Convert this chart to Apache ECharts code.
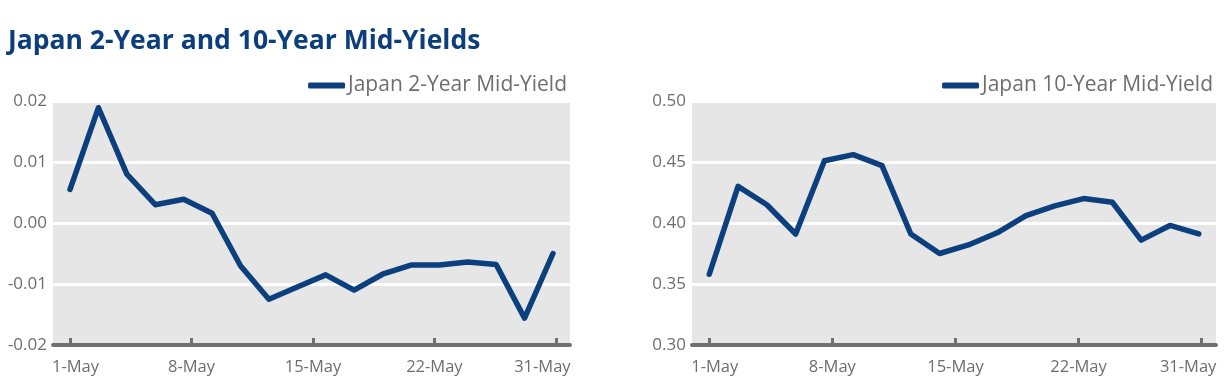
<!DOCTYPE html>
<html>
<head>
<meta charset="utf-8">
<script src="https://cdn.jsdelivr.net/npm/echarts@6/dist/echarts.min.js"></script>
<style>
html,body{margin:0;padding:0;background:#fff;}
#c{width:1227px;height:388px;}
</style>
</head>
<body>
<div id="c"></div>
<script>
// ---- data ----
const titleText = "Japan 2-Year and 10-Year Mid-Yields";
const seriesNames = ["Japan 2-Year Mid-Yield", "Japan 10-Year Mid-Yield"];
const tickLabels = ["1-May", "8-May", "15-May", "22-May", "31-May"];
const yield2y = [0.0055, 0.0189, 0.0080, 0.0030, 0.0039, 0.0016, -0.0070, -0.0125, -0.0105,
                 -0.0085, -0.0110, -0.0084, -0.0069, -0.0069, -0.0064, -0.0068, -0.0156, -0.0050];
const yield10y = [0.358, 0.430, 0.415, 0.391, 0.451, 0.456, 0.447, 0.391, 0.375,
                  0.382, 0.392, 0.406, 0.414, 0.420, 0.417, 0.386, 0.398, 0.391];
const y2Ticks = [-0.02, -0.01, 0.00, 0.01, 0.02];
const y10Ticks = [0.30, 0.35, 0.40, 0.45, 0.50];

// ---- build ----
const n = yield2y.length;
const lastTick = (n - 1) * 1.006;
const tickPos = tickLabels.map((_, i) => +(i * lastTick / (tickLabels.length - 1)).toFixed(4));
const toPairs = arr => arr.map((v, i) => [i, v]);

const gray = '#6e6e6e';
const blue = '#0b3f7e';
const font = '"Open Sans", "Noto Sans", sans-serif';
const xfs = 16.5;

function xAxis(gi) {
  return {
    type: 'value', gridIndex: gi, min: -0.6, max: n - 1 + 0.6,
    axisLine: { show: true, onZero: false, lineStyle: { color: '#707070', width: 4 } },
    axisTick: { show: true, inside: true, length: 7, customValues: tickPos, lineStyle: { color: '#707070', width: 3 } },
    axisLabel: {
      customValues: tickPos, color: gray, fontSize: xfs, fontFamily: font, margin: 14,
      rich: {
        f: { color: gray, fontSize: xfs, fontFamily: font, padding: [0, 0, 0, 11] },
        l: { color: gray, fontSize: xfs, fontFamily: font, padding: [0, 27, 0, 0] }
      },
      formatter: v => {
        let best = 0;
        tickPos.forEach((p, i) => { if (Math.abs(p - v) < Math.abs(tickPos[best] - v)) best = i; });
        const t = tickLabels[best];
        if (best === 0) return '{f|' + t + '}';
        if (best === tickLabels.length - 1) return '{l|' + t + '}';
        return t;
      }
    },
    splitLine: { show: false }
  };
}
function yAxis(gi, ticks, dec) {
  return {
    type: 'value', gridIndex: gi, min: ticks[0], max: ticks[ticks.length - 1], interval: ticks[1] - ticks[0],
    axisLine: { show: false }, axisTick: { show: false },
    axisLabel: { color: gray, fontSize: 17, fontFamily: font, margin: 6, formatter: v => v.toFixed(dec) },
    splitLine: { show: true, lineStyle: { color: '#ffffff', width: 3 } }
  };
}

const chart = echarts.init(document.getElementById('c'), null, { renderer: 'canvas' });
chart.setOption({
  animation: false,
  backgroundColor: '#ffffff',
  title: {
    text: titleText, left: 3, top: 23,
    textStyle: { color: '#0c3d7c', fontSize: 26.5, fontWeight: 'bold', fontFamily: font }
  },
  legend: [
    { data: [seriesNames[0]], right: 655, top: 70, itemWidth: 37, itemHeight: 6, icon: 'roundRect', itemGap: 4,
      textStyle: { color: gray, fontSize: 21, fontFamily: font, padding: [0, 0, 0, -2] } },
    { data: [seriesNames[1]], right: 9, top: 70, itemWidth: 37, itemHeight: 6, icon: 'roundRect', itemGap: 4,
      textStyle: { color: gray, fontSize: 21, fontFamily: font, padding: [0, 0, 0, -2] } }
  ],
  grid: [
    { left: 53, top: 101, width: 517, height: 244, show: true, backgroundColor: '#e6e6e6', borderWidth: 0 },
    { left: 692, top: 101, width: 524, height: 244, show: true, backgroundColor: '#e6e6e6', borderWidth: 0 }
  ],
  xAxis: [xAxis(0), xAxis(1)],
  yAxis: [yAxis(0, y2Ticks, 2), yAxis(1, y10Ticks, 2)],
  series: [
    { name: seriesNames[0], type: 'line', xAxisIndex: 0, yAxisIndex: 0, data: toPairs(yield2y),
      showSymbol: false, symbol: 'none', color: blue,
      lineStyle: { color: blue, width: 5.5, cap: 'round', join: 'round' } },
    { name: seriesNames[1], type: 'line', xAxisIndex: 1, yAxisIndex: 1, data: toPairs(yield10y),
      showSymbol: false, symbol: 'none', color: blue,
      lineStyle: { color: blue, width: 5.5, cap: 'round', join: 'round' } }
  ]
});
</script>
</body>
</html>
